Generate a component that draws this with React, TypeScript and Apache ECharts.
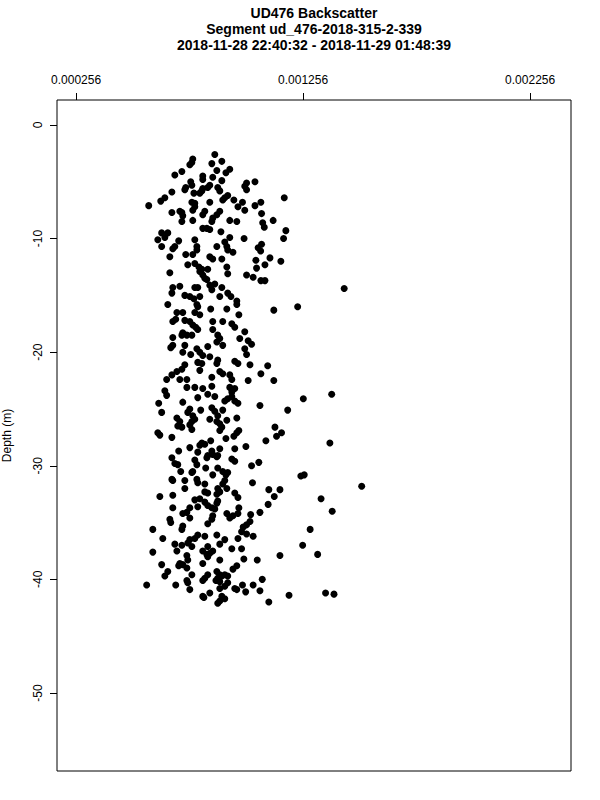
import React, { useEffect, useRef } from "react";
import * as echarts from "echarts";

const titleLines = [
  "UD476 Backscatter",
  "Segment ud_476-2018-315-2-339",
  "2018-11-28 22:40:32 - 2018-11-29 01:48:39",
];
const xTicks = [0.000256, 0.001256, 0.002256];
const yTicks = [0, -10, -20, -30, -40, -50];
const xRange = [0.000172, 0.002436];
const yRange = [-56.87, 2.2];
const yName = "Depth (m)";

// [backscatter, depth (m)]
const points: [number, number][] = [
  [86.7e-5, -2.6], [89.8e-5, -3.2], [77.0e-5, -3.0], [76.6e-5, -3.3], [75.7e-5, -3.5], [85.4e-5, -3.4],
  [87.6e-5, -4.0], [93.3e-5, -3.9], [91.6e-5, -4.2], [72.2e-5, -4.1], [69.1e-5, -4.4], [81.4e-5, -4.5],
  [81.4e-5, -4.8], [85.8e-5, -4.6], [89.8e-5, -4.9], [76.1e-5, -5.0], [76.6e-5, -5.3], [73.9e-5, -5.5],
  [73.5e-5, -5.7], [84.5e-5, -5.3], [83.6e-5, -5.5], [88.0e-5, -5.5], [88.9e-5, -5.8], [81.4e-5, -5.6],
  [81.0e-5, -5.8], [80.1e-5, -6.0], [77.5e-5, -6.0], [67.8e-5, -5.9], [92.4e-5, -6.2], [91.1e-5, -6.4],
  [90.2e-5, -6.6], [64.7e-5, -6.4], [62.9e-5, -6.7], [95.1e-5, -6.6], [84.5e-5, -6.8], [76.6e-5, -6.8],
  [77.9e-5, -6.9], [57.6e-5, -7.1], [77.9e-5, -7.2], [77.0e-5, -7.5], [96.9e-5, -7.2], [67.8e-5, -7.7],
  [71.3e-5, -7.6], [72.2e-5, -7.7], [82.3e-5, -7.6], [81.4e-5, -7.9], [88.9e-5, -7.6], [87.6e-5, -7.9],
  [85.8e-5, -8.2], [85.4e-5, -8.5], [77.0e-5, -8.4], [72.6e-5, -8.0], [72.2e-5, -8.5], [93.3e-5, -8.4],
  [96.4e-5, -8.5],
  [63.3e-5, -9.5], [66.0e-5, -9.5], [64.7e-5, -9.9], [61.6e-5, -10.1], [70.8e-5, -10.2], [63.3e-5, -10.7],
  [69.1e-5, -10.7], [68.2e-5, -10.9], [77.9e-5, -10.1], [78.8e-5, -10.7], [78.8e-5, -11.0], [81.4e-5, -9.1],
  [83.2e-5, -9.1], [84.5e-5, -9.2], [89.4e-5, -9.4], [87.6e-5, -10.7], [91.1e-5, -10.3], [92.0e-5, -10.7],
  [92.4e-5, -11.0], [94.7e-5, -11.2], [93.3e-5, -9.9], [66.9e-5, -11.6], [73.9e-5, -11.4], [77.0e-5, -11.4],
  [84.5e-5, -11.6], [85.8e-5, -11.8], [89.8e-5, -11.8], [74.8e-5, -12.3], [77.9e-5, -12.2], [79.7e-5, -12.5],
  [81.0e-5, -12.7], [80.1e-5, -12.9], [81.4e-5, -13.2], [82.3e-5, -13.5], [83.2e-5, -13.6], [83.6e-5, -12.7],
  [92.0e-5, -12.5], [92.4e-5, -13.1], [66.9e-5, -13.0], [84.5e-5, -14.1], [86.7e-5, -14.0], [85.4e-5, -14.5],
  [89.8e-5, -14.3], [71.3e-5, -14.2], [68.2e-5, -14.3], [67.8e-5, -14.8], [77.9e-5, -14.3], [79.2e-5, -14.3],
  [73.5e-5, -15.0], [75.7e-5, -15.1], [77.5e-5, -15.3], [80.1e-5, -15.1], [88.9e-5, -15.1], [92.4e-5, -14.8],
  [93.8e-5, -15.1], [96.4e-5, -15.5],
  [66.0e-5, -15.8], [78.8e-5, -15.8], [79.2e-5, -16.0], [77.9e-5, -16.5], [80.1e-5, -16.7], [84.9e-5, -16.2],
  [92.0e-5, -16.2], [96.4e-5, -15.8], [70.0e-5, -16.5], [72.6e-5, -16.5], [68.2e-5, -17.3], [69.5e-5, -17.1],
  [73.5e-5, -17.2], [75.7e-5, -17.3], [77.0e-5, -17.6], [78.3e-5, -17.8], [79.2e-5, -18.0], [85.8e-5, -17.3],
  [90.2e-5, -17.3], [94.2e-5, -17.5], [95.5e-5, -17.8], [97.3e-5, -16.7], [85.8e-5, -18.0], [72.6e-5, -18.3],
  [74.4e-5, -18.5], [72.2e-5, -18.5], [76.6e-5, -18.5], [68.2e-5, -18.7], [88.0e-5, -18.5], [88.9e-5, -18.8],
  [87.6e-5, -19.1], [90.2e-5, -19.4], [97.7e-5, -18.8], [68.2e-5, -19.4], [67.3e-5, -19.6], [73.5e-5, -19.4],
  [83.6e-5, -19.5], [78.8e-5, -19.7], [80.1e-5, -20.0], [81.4e-5, -20.3], [72.6e-5, -20.0], [76.1e-5, -20.2],
  [84.5e-5, -20.4], [88.0e-5, -20.7], [87.6e-5, -21.0], [79.2e-5, -20.9], [81.0e-5, -21.0], [95.5e-5, -20.8],
  [96.9e-5, -21.0], [73.5e-5, -21.1], [72.2e-5, -21.5], [70.0e-5, -21.7], [67.8e-5, -22.0], [80.1e-5, -21.6],
  [88.9e-5, -21.7], [90.2e-5, -21.9], [85.4e-5, -22.2], [93.3e-5, -22.0], [94.2e-5, -22.4], [65.5e-5, -22.4],
  [71.3e-5, -22.4], [74.4e-5, -22.4],
  [74.4e-5, -23.1], [77.9e-5, -23.1], [81.4e-5, -23.2], [83.6e-5, -23.7], [64.7e-5, -23.4], [65.5e-5, -23.8],
  [85.4e-5, -23.0], [93.3e-5, -23.1], [95.5e-5, -23.2], [94.2e-5, -23.5], [94.2e-5, -23.9], [92.4e-5, -24.1],
  [91.1e-5, -24.3], [95.5e-5, -24.3], [96.9e-5, -24.5], [79.2e-5, -24.0], [86.7e-5, -23.9], [72.6e-5, -24.4],
  [62.0e-5, -24.5], [85.4e-5, -24.9], [86.7e-5, -25.2], [75.7e-5, -25.0], [74.8e-5, -25.3], [80.5e-5, -25.1],
  [90.2e-5, -25.1], [63.3e-5, -25.3], [77.0e-5, -25.6], [77.9e-5, -25.9], [76.6e-5, -26.1], [75.7e-5, -26.4],
  [76.6e-5, -26.8], [70.0e-5, -25.8], [71.3e-5, -26.1], [70.4e-5, -26.5], [72.2e-5, -26.6], [84.5e-5, -25.9],
  [88.0e-5, -25.6], [87.6e-5, -26.1], [88.9e-5, -26.3], [89.8e-5, -26.6], [88.9e-5, -26.9], [92.0e-5, -26.0],
  [96.4e-5, -25.8], [61.6e-5, -27.1], [62.5e-5, -27.3], [67.8e-5, -27.5], [97.3e-5, -26.9], [96.4e-5, -27.1],
  [95.1e-5, -27.4], [91.6e-5, -27.6], [81.0e-5, -28.0], [82.3e-5, -28.1], [80.1e-5, -28.2], [84.9e-5, -27.8],
  [75.7e-5, -28.4], [79.2e-5, -28.8], [85.4e-5, -28.7], [85.8e-5, -29.0], [83.6e-5, -29.1], [88.0e-5, -29.1],
  [88.9e-5, -28.5], [70.8e-5, -28.7], [95.5e-5, -28.5],
  [67.8e-5, -29.3], [69.1e-5, -29.8], [70.4e-5, -29.9], [77.9e-5, -29.5], [78.8e-5, -29.9], [77.0e-5, -30.5],
  [76.6e-5, -30.6], [83.2e-5, -29.3], [87.6e-5, -29.2], [94.2e-5, -29.4], [95.5e-5, -29.6], [71.7e-5, -30.5],
  [82.7e-5, -30.2], [88.0e-5, -30.2], [90.2e-5, -30.5], [92.4e-5, -30.6], [91.6e-5, -30.8], [85.8e-5, -30.8],
  [67.8e-5, -31.2], [68.2e-5, -31.3], [73.5e-5, -31.3], [73.5e-5, -32.0], [78.8e-5, -31.2], [79.2e-5, -31.5],
  [82.3e-5, -31.6], [91.1e-5, -31.3], [90.2e-5, -31.6], [92.0e-5, -32.0], [88.0e-5, -32.0], [88.9e-5, -32.3],
  [87.6e-5, -32.5], [82.3e-5, -32.3], [83.6e-5, -32.4], [68.2e-5, -32.6], [62.5e-5, -32.7], [95.5e-5, -32.4],
  [96.9e-5, -32.8], [77.9e-5, -33.0], [80.1e-5, -32.9], [82.3e-5, -33.2], [83.6e-5, -33.5], [85.4e-5, -33.7],
  [86.7e-5, -33.8], [88.0e-5, -33.1], [87.6e-5, -33.3], [79.2e-5, -33.6], [75.7e-5, -33.7], [68.2e-5, -33.7],
  [97.3e-5, -33.7], [72.6e-5, -34.2], [74.4e-5, -34.1], [75.7e-5, -34.6], [85.8e-5, -34.4], [85.4e-5, -34.7],
  [92.0e-5, -34.2], [93.3e-5, -34.6], [94.7e-5, -34.4], [96.9e-5, -34.2], [66.9e-5, -34.7], [67.3e-5, -35.0],
  [72.6e-5, -35.3], [72.2e-5, -35.6], [83.6e-5, -35.1], [59.4e-5, -35.6],
  [63.8e-5, -36.4], [69.1e-5, -36.9], [72.2e-5, -37.0], [74.8e-5, -36.8], [76.6e-5, -37.1], [77.9e-5, -36.4],
  [79.2e-5, -36.1], [75.7e-5, -36.5], [82.3e-5, -36.2], [87.6e-5, -36.1], [83.6e-5, -37.1], [88.9e-5, -36.9],
  [91.1e-5, -36.5], [96.9e-5, -36.4], [94.2e-5, -37.3], [59.4e-5, -37.6], [70.0e-5, -37.5], [81.4e-5, -37.5],
  [83.2e-5, -37.8], [84.5e-5, -37.7], [85.8e-5, -37.5], [83.6e-5, -38.0], [88.9e-5, -38.3], [74.4e-5, -37.9],
  [74.8e-5, -38.3], [71.3e-5, -38.6], [70.8e-5, -38.8], [72.6e-5, -38.7], [74.4e-5, -39.0], [81.4e-5, -38.6],
  [63.3e-5, -38.7], [96.4e-5, -38.8], [94.7e-5, -39.1], [66.0e-5, -39.3], [64.7e-5, -39.7], [76.6e-5, -39.6],
  [83.6e-5, -39.6], [82.3e-5, -39.9], [81.4e-5, -40.1], [87.6e-5, -39.3], [88.9e-5, -39.6], [88.0e-5, -39.9],
  [89.8e-5, -39.7], [87.2e-5, -40.1], [88.9e-5, -40.2], [91.1e-5, -39.6], [92.4e-5, -39.7], [74.4e-5, -40.1],
  [74.8e-5, -40.3], [75.7e-5, -40.9], [69.5e-5, -40.5], [56.7e-5, -40.5], [92.4e-5, -40.3], [91.1e-5, -40.6],
  [88.9e-5, -40.8], [95.5e-5, -40.8], [96.4e-5, -40.9], [84.5e-5, -41.2], [81.9e-5, -41.6], [81.4e-5, -41.5],
  [89.8e-5, -41.5], [91.1e-5, -41.7], [88.0e-5, -42.1], [88.9e-5, -41.9],
  [100.7e-5, -5.1], [99.9e-5, -5.4], [100.7e-5, -5.7], [104.4e-5, -5.0], [117.3e-5, -6.4], [98.9e-5, -6.8],
  [99.9e-5, -7.5], [104.4e-5, -7.1], [107.0e-5, -6.8], [107.3e-5, -7.8], [112.4e-5, -8.4], [107.8e-5, -8.6],
  [108.5e-5, -9.0], [118.0e-5, -9.3], [117.0e-5, -10.0], [99.6e-5, -10.0], [105.8e-5, -10.8], [107.3e-5, -10.5],
  [106.9e-5, -11.1], [111.0e-5, -11.7], [115.8e-5, -12.0], [104.8e-5, -11.9], [105.1e-5, -12.6], [108.8e-5, -12.3],
  [100.7e-5, -13.2], [103.6e-5, -13.4], [107.0e-5, -13.7], [108.8e-5, -13.7], [143.7e-5, -14.4], [123.2e-5, -16.0],
  [112.7e-5, -16.3], [99.9e-5, -18.2], [101.4e-5, -19.0], [102.9e-5, -19.3], [99.9e-5, -19.7], [100.7e-5, -20.2],
  [102.2e-5, -21.1], [110.0e-5, -21.2], [107.0e-5, -21.9],
  [101.4e-5, -22.5], [112.7e-5, -22.5], [125.7e-5, -24.1], [138.2e-5, -23.7], [106.6e-5, -24.7], [118.8e-5, -25.1],
  [113.2e-5, -26.6], [113.9e-5, -27.4], [116.1e-5, -27.1], [109.2e-5, -27.8], [100.4e-5, -28.3], [137.4e-5, -28.0],
  [102.9e-5, -30.0], [106.1e-5, -29.7], [124.6e-5, -30.9], [126.1e-5, -30.8], [103.3e-5, -31.5], [151.4e-5, -31.8],
  [110.5e-5, -32.1], [115.4e-5, -32.1], [112.9e-5, -32.7], [133.5e-5, -32.9], [110.2e-5, -33.4], [138.4e-5, -34.0],
  [106.6e-5, -34.1], [102.5e-5, -34.3], [102.2e-5, -34.9], [100.7e-5, -35.2], [99.2e-5, -35.4], [98.5e-5, -35.8],
  [100.7e-5, -36.0], [103.6e-5, -36.2], [98.5e-5, -37.3], [128.7e-5, -35.6], [125.4e-5, -37.0], [115.4e-5, -37.9],
  [132.0e-5, -37.8], [99.5e-5, -38.2], [105.4e-5, -38.3], [107.6e-5, -40.0], [98.9e-5, -40.5], [103.6e-5, -40.5],
  [100.3e-5, -41.1], [106.6e-5, -41.0], [110.5e-5, -42.0], [119.4e-5, -41.4], [135.5e-5, -41.2], [139.2e-5, -41.3],
];

const FONT = "Liberation Sans, Arial, Helvetica, sans-serif";

export default function App() {
  const ref = useRef<HTMLDivElement | null>(null);

  useEffect(() => {
    if (!ref.current) return;
    const chart = echarts.init(ref.current, undefined, { renderer: "svg" });
    const plotCenter = 314;
    chart.setOption({
      animation: false,
      backgroundColor: "#ffffff",
      graphic: titleLines.map((t, i) => ({
        type: "text",
        x: plotCenter,
        y: 6 + i * 16,
        style: {
          text: t,
          textAlign: "center",
          textVerticalAlign: "top",
          font: `bold 14px ${FONT}`,
          fill: "#000",
        },
      })),
      grid: {
        left: 57,
        right: 29,
        top: 100,
        bottom: 29,
        containLabel: false,
        outerBoundsMode: "none",
        show: true,
        borderColor: "#000",
        borderWidth: 1,
        backgroundColor: "transparent",
      },
      xAxis: {
        type: "value",
        position: "top",
        min: xRange[0],
        max: xRange[1],
        axisLine: { show: false, onZero: false },
        splitLine: { show: false },
        axisTick: {
          show: true,
          length: 7,
          customValues: xTicks,
          lineStyle: { color: "#000", width: 1 },
        },
        axisLabel: {
          show: true,
          customValues: xTicks,
          margin: 14,
          color: "#000",
          fontFamily: FONT,
          fontSize: 12,
          formatter: (v: number) => v.toFixed(6),
        },
      },
      yAxis: {
        type: "value",
        min: yRange[0],
        max: yRange[1],
        name: yName,
        nameLocation: "middle",
        nameGap: 44,
        nameRotate: 90,
        nameTextStyle: { color: "#000", fontFamily: FONT, fontSize: 12 },
        axisLine: { show: false, onZero: false },
        splitLine: { show: false },
        axisTick: {
          show: true,
          length: 7,
          customValues: yTicks,
          lineStyle: { color: "#000", width: 1 },
        },
        axisLabel: {
          show: true,
          customValues: yTicks,
          rotate: 90,
          margin: 13,
          color: "#000",
          fontFamily: FONT,
          fontSize: 12,
          formatter: (v: number) => String(Math.round(v)),
        },
      },
      series: [
        {
          type: "scatter",
          data: points,
          symbol: "circle",
          symbolSize: 7,
          itemStyle: { color: "#000", opacity: 1 },
          silent: true,
        },
      ],
    });
    return () => chart.dispose();
  }, []);

  return (
    <div
      ref={ref}
      style={{ position: "fixed", left: 0, top: 0, width: 600, height: 800, background: "#fff" }}
    />
  );
}
